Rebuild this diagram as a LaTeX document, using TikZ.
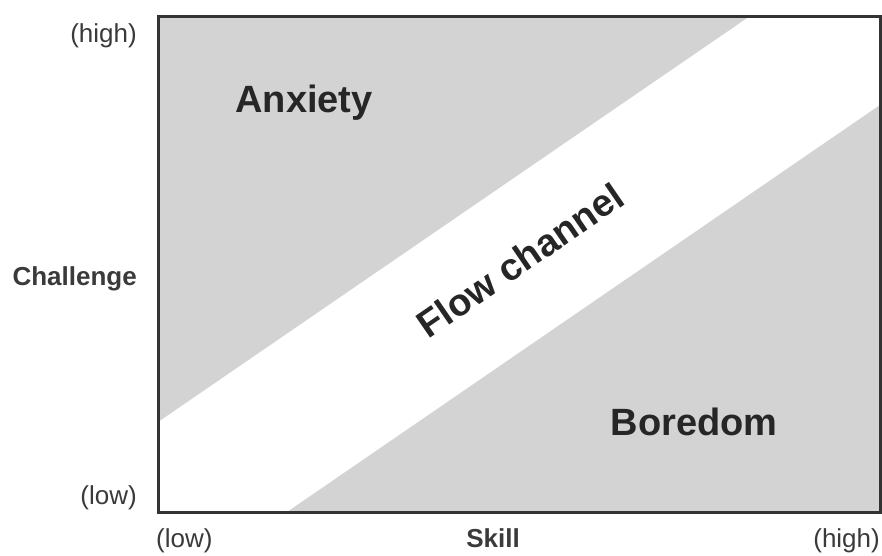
\documentclass[tikz,border=0pt]{standalone}
\usepackage{fontspec}
\setmainfont{Liberation Sans}
\definecolor{zonegray}{HTML}{D3D3D3}
\definecolor{framegray}{HTML}{333333}
\definecolor{textgray}{HTML}{3A3A3A}
\begin{document}
\begin{tikzpicture}[
    x=1pt, y=-1pt,
    zone/.style={fill=zonegray, draw=none},
    big/.style={font=\fontsize{38}{40}\selectfont\bfseries, text=black!85, inner sep=0pt},
    axislabel/.style={font=\fontsize{26}{28}\selectfont, text=textgray, inner sep=0pt},
    axisname/.style={axislabel, font=\fontsize{26}{28}\selectfont\bfseries}
]
\useasboundingbox (0,0) rectangle (882,555);

% Frame corners
\coordinate (nw) at (158,16);
\coordinate (ne) at (880,16);
\coordinate (sw) at (158,512);
\coordinate (se) at (880,512);

% Gray zones
\fill[zone] (nw) -- (750,16) -- (158,422) -- cycle;
\fill[zone] (287,512) -- (se) -- (880,105) -- cycle;
\draw[framegray, line width=3pt] (nw) rectangle (se);

% Zone labels
\node[big, anchor=base] (anxiety) at (304,112) {Anxiety};
\node[big, anchor=base] (boredom) at (694,435) {Boredom};
\node[big, rotate=34.5] (flow) at (520,260) {Flow channel};

% Challenge axis
\node[axislabel, anchor=base east] (chigh) at (137,42) {(high)};
\node[axisname, anchor=base east] (challenge) at (137,285) {Challenge};
\node[axislabel, anchor=base east] (clow) at (137,504) {(low)};

% Skill axis
\node[axislabel, anchor=base west] (slow) at (156,547) {(low)};
\node[axisname, anchor=base] (skill) at (493,547) {Skill};
\node[axislabel, anchor=base east] (shigh) at (880,547) {(high)};
\end{tikzpicture}
\end{document}
